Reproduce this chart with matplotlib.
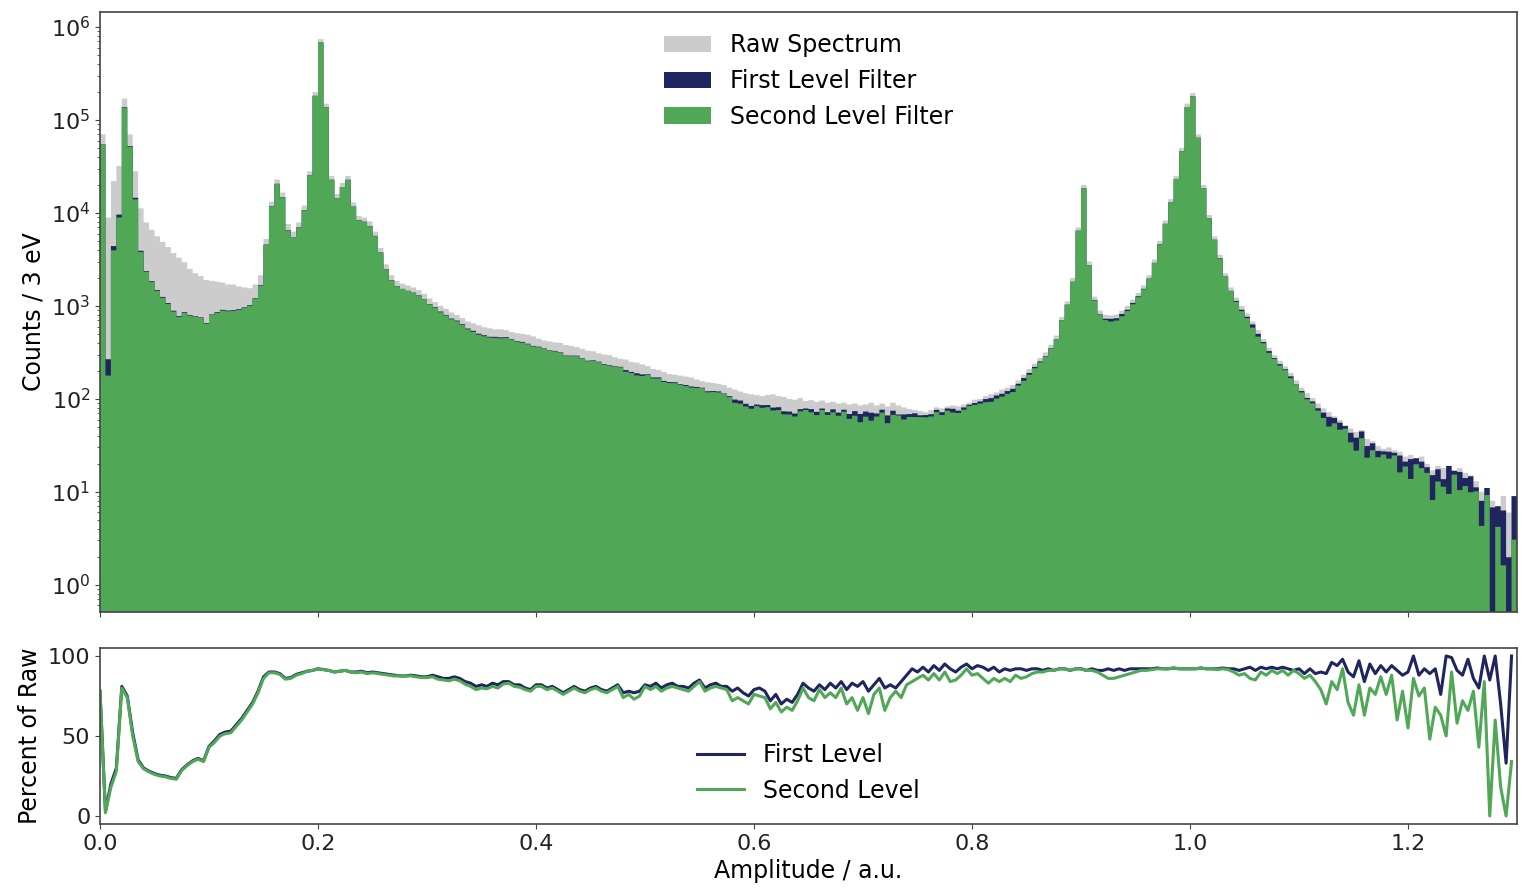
import numpy as np
import matplotlib
matplotlib.use("Agg")
import matplotlib.pyplot as plt

# Amplitude binning of the spectrum
BIN_WIDTH = 0.005
X_MAX = 1.3

# Counts per bin of the unfiltered spectrum
raw_counts = [
    70000, 8900, 22000, 32000, 170000, 70000, 28000, 11200, 7900, 6600,
    5600, 4900, 4300, 3700, 3300, 2950, 2500, 2240, 2090, 1900,
    1860, 1820, 1780, 1700, 1700, 1620, 1580, 1550, 1700, 2140,
    5250, 13200, 22900, 16600, 7600, 6300, 7900, 12000, 28000, 200000,
    740000, 150000, 25000, 16000, 21000, 25000, 13000, 9300, 8900, 8100,
    6300, 4200, 2800, 2140, 1860, 1740, 1660, 1580, 1480, 1350,
    1200, 1100, 1000, 930, 850, 800, 740, 680, 650, 620,
    590, 575, 560, 560, 550, 525, 510, 500, 490, 470,
    445, 425, 415, 405, 400, 380, 370, 360, 345, 330,
    325, 310, 300, 295, 280, 270, 265, 250, 245, 235,
    225, 210, 205, 195, 185, 182, 178, 174, 170, 162,
    155, 151, 148, 145, 141, 132, 126, 120, 115, 112,
    110, 107, 110, 112, 107, 105, 100, 98, 102, 95,
    97, 93, 96, 91, 93, 89, 91, 87, 89, 85,
    87, 91, 85, 89, 83, 91, 85, 81, 78, 76,
    74, 72, 76, 81, 79, 83, 85, 83, 87, 91,
    98, 100, 107, 112, 117, 126, 132, 141, 158, 182,
    209, 240, 275, 316, 380, 480, 760, 1120, 2000, 7000,
    20000, 3000, 1260, 890, 800, 790, 810, 890, 1000, 1170,
    1380, 1660, 2140, 3160, 5000, 8300, 14100, 25100, 50000, 150000,
    195000, 70000, 20000, 9500, 5600, 3550, 2240, 1580, 1230, 1000,
    830, 680, 550, 440, 355, 295, 257, 224, 190, 158,
    132, 115, 102, 89, 79, 72, 65, 59, 52, 48,
    44, 46, 37, 35, 31, 29, 30, 28, 27, 24,
    25, 23, 24, 20, 17, 19, 18, 19, 17, 18,
    16, 15, 13, 10, 11, 8, 7, 9, 6, 9,
]

# Share of the raw counts kept by the first level filter (percent)
first_level_pct = [
    78, 3, 20, 30, 81, 75, 52, 35, 30, 28,
    26.5, 25.5, 25, 24, 23.5, 29, 32, 34.5, 36, 34.5,
    43.5, 47, 51, 52.5, 53, 57, 61, 66, 71, 78,
    87, 90, 90, 89, 86, 86.5, 88.5, 89.5, 90.5, 91,
    92, 91.5, 91, 90, 90.5, 91, 90, 90, 90.5, 89.5,
    90, 89.5, 89, 88.5, 88, 87.6, 87.5, 88, 87.6, 87,
    87, 88, 87, 86, 86, 87, 86, 84, 83, 81,
    82, 81, 83, 82, 84, 84, 82, 82, 80, 79,
    82, 82, 80, 81, 79, 77, 79, 81, 79, 78,
    80, 81, 79, 78, 80, 82, 77, 78, 77, 78,
    82, 81, 83, 80, 82, 83, 81, 81, 80, 83,
    85, 80, 82, 83, 81, 81, 78, 80, 77, 75,
    79, 80, 78, 72, 76, 70, 73, 71, 76, 83,
    80, 78, 82, 79, 83, 80, 84, 79, 83, 81,
    84, 78, 82, 86, 80, 82, 80, 84, 88, 92,
    90, 93, 90, 94, 91, 95, 92, 90, 93, 95,
    92, 94, 93, 91, 93, 90, 92, 91, 92, 92,
    91, 92, 92, 91, 92, 91, 92, 92, 91, 92,
    92, 91, 92, 91, 91, 92, 91, 92, 91, 92,
    92, 92, 92, 92, 92.5, 92, 92, 92.5, 92, 92,
    92, 92, 92.5, 92, 92, 92, 92.5, 92, 92, 91,
    92, 93, 91, 93, 92, 93, 92, 93, 92, 91,
    92, 89, 92, 89, 90, 89, 96, 94, 98, 90,
    87, 97, 84, 95, 89, 94, 90, 94, 91, 88,
    90, 100, 88, 92, 89, 92, 76, 100, 99, 91,
    88, 98, 86, 80, 100, 85, 100, 70, 33, 100,
]

# Share of the raw counts kept by the second level filter (percent)
second_level_pct = [
    78, 2, 18, 28, 80, 74, 50, 34, 29.5, 27.5,
    26, 25, 24.5, 23.5, 23, 28.5, 31.5, 34, 35.5, 34,
    43, 46, 50, 51.5, 52, 56, 60, 65, 70, 77,
    86, 89.5, 89.5, 88.5, 85.5, 86, 88, 89, 90.5, 91,
    92, 91.5, 91, 90, 90.5, 91, 90, 89.5, 90, 89,
    89.5, 89, 88.5, 88, 87.5, 87.6, 87.5, 87.6, 87, 86.5,
    86.5, 87, 85.5, 85, 84.5, 85.5, 84.5, 82.4, 81, 79,
    80, 79.5, 81, 80, 82.5, 83, 81, 80.5, 79, 78,
    81, 81, 79, 80, 78, 76, 78, 80, 78, 77,
    79, 80, 78, 77, 79, 81, 74, 76, 73, 75,
    81, 79, 81, 78, 80, 81, 80, 79, 78, 81,
    84, 78, 80, 81, 80, 79, 72, 74, 72, 70,
    76, 75, 74, 67, 71, 65, 68, 66, 72, 80,
    74, 72, 79, 74, 77, 74, 80, 70, 74, 66,
    74, 64, 76, 80, 66, 74, 78, 74, 82, 84,
    86, 88, 85, 89, 85, 90, 84, 85, 88, 92,
    88, 89, 86, 83, 86, 84, 86, 84, 88, 86,
    87, 89, 90, 90, 91, 91, 92, 92, 91, 92,
    92, 91, 91, 90, 88, 86, 86, 87, 88, 89,
    90, 91, 91, 91.5, 92, 92, 92, 92.5, 92, 92,
    92, 92, 92.5, 92, 92, 91.5, 92, 91.5, 90, 88,
    89, 86, 85, 90, 88, 91, 89, 91, 88, 91,
    89, 86, 88, 84, 79, 70, 84, 79, 92, 71,
    63, 82, 63, 80, 76, 87, 76, 88, 60, 78,
    55, 86, 75, 80, 48, 68, 63, 50, 90, 58,
    72, 66, 78, 43, 84, 0, 60, 18, 0, 34,
]

GRAY = "#cccccc"
NAVY = "#1f255e"
GREEN = "#50a857"
SPINE = "#444444"

raw = np.array(raw_counts, dtype=float)
first_pct = np.array(first_level_pct, dtype=float)
second_pct = np.array(second_level_pct, dtype=float)
first = raw * first_pct / 100.0
second = raw * second_pct / 100.0

n_bins = len(raw)
edges = np.arange(n_bins + 1) * BIN_WIDTH
centers = edges[:-1] + BIN_WIDTH / 2

plt.rcParams["font.family"] = ["DejaVu Sans"]

fig = plt.figure(figsize=(15.24, 8.94), dpi=100)
ax = fig.add_axes([100 / 1524, 282 / 894, 1417 / 1524, 600 / 894])
ax2 = fig.add_axes([100 / 1524, 70 / 894, 1417 / 1524, 176 / 894], sharex=ax)

# Upper panel: stacked-over spectra on a log scale
ax.hist(centers, bins=edges, weights=raw, histtype="stepfilled", color=GRAY,
        linewidth=0, log=True, label="Raw Spectrum")
ax.hist(centers, bins=edges, weights=first, histtype="stepfilled", color=NAVY,
        linewidth=0, log=True, label="First Level Filter")
ax.hist(centers, bins=edges, weights=second, histtype="stepfilled", color=GREEN,
        linewidth=0, log=True, label="Second Level Filter")
ax.set_yscale("log")
ax.set_ylim(0.51, 1.45e6)
ax.set_xlim(0, X_MAX)
ax.set_ylabel("Counts / 3 eV", fontsize=17)
ax.tick_params(axis="x", labelbottom=False)
ax.legend(loc="upper center", frameon=False, fontsize=17)

# Lower panel: fraction of the raw spectrum kept by each filter
ax2.plot(edges[:-1], first_pct, color=NAVY, lw=2.2, label="First Level")
ax2.plot(edges[:-1], second_pct, color=GREEN, lw=2.2, label="Second Level")
ax2.set_ylim(-5, 105)
ax2.set_yticks([0, 50, 100])
ax2.set_xticks(np.arange(0, 1.21, 0.2))
ax2.set_xlim(0, X_MAX)
ax2.set_ylabel("Percent of Raw", fontsize=17)
ax2.set_xlabel("Amplitude / a.u.", fontsize=17)
ax2.legend(loc="lower center", frameon=False, fontsize=17)

for a in (ax, ax2):
    for s in a.spines.values():
        s.set_color(SPINE)
        s.set_linewidth(1.2)
    a.tick_params(which="both", colors=SPINE, labelcolor="#222222", labelsize=16)

fig.savefig("out.png", dpi=100)
